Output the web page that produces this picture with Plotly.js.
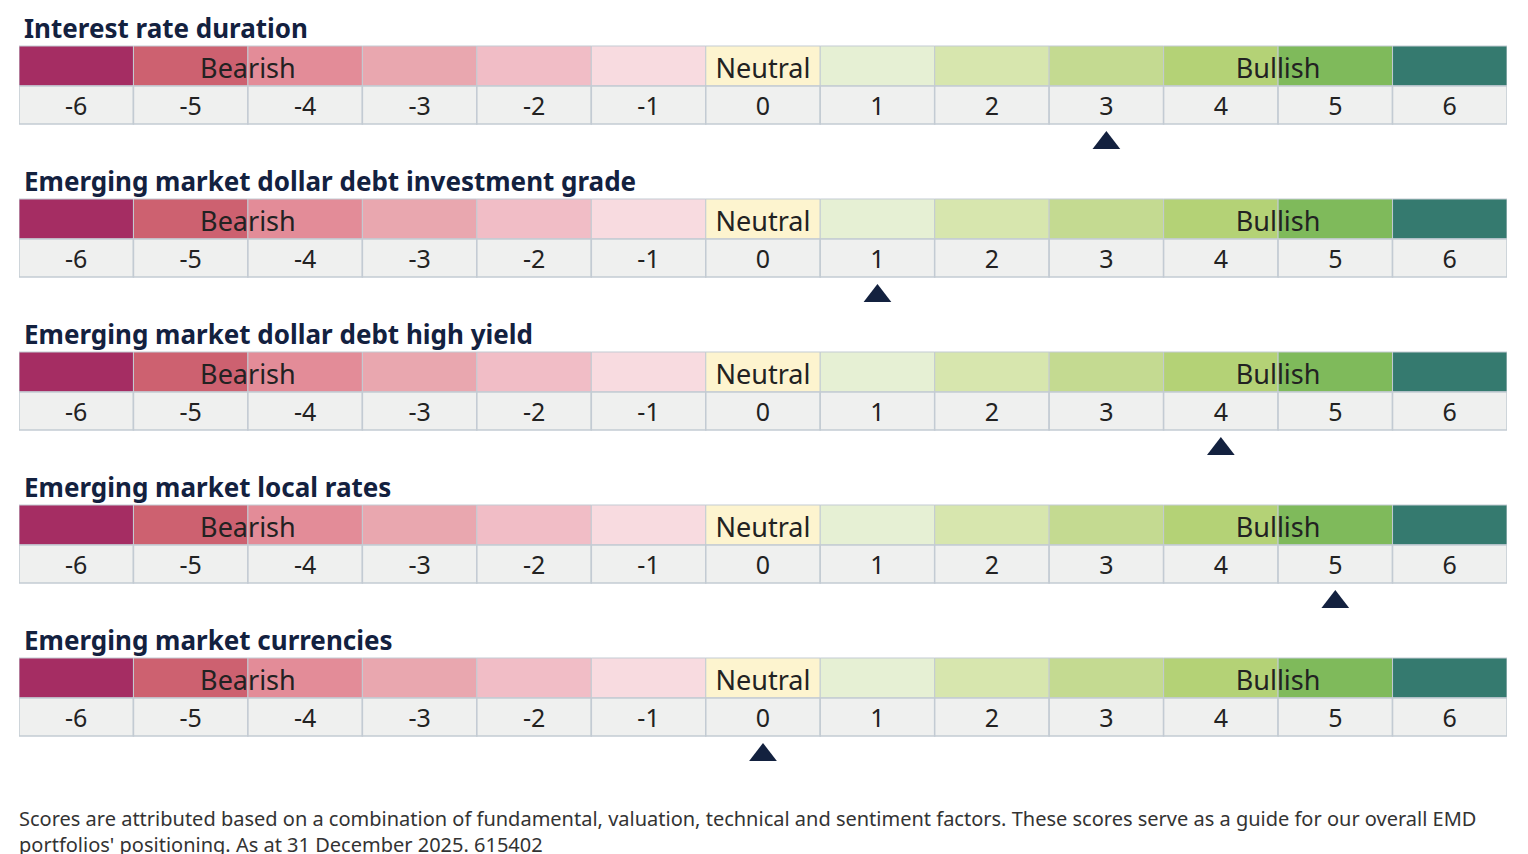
<!DOCTYPE html>
<html><head><meta charset="utf-8">
<script src="https://cdn.plot.ly/plotly-3.0.1.min.js"></script>
<style>html,body{margin:0;padding:0;background:#fff}#chart{width:1528px;height:854px}</style>
</head><body><div id="chart"></div>
<script>
// ---- data ----
const scores = [-6,-5,-4,-3,-2,-1,0,1,2,3,4,5,6];
const tickLabels = ["-6","-5","-4","-3","-2","-1","0","1","2","3","4","5","6"];
const cellColors = ["#a52d63","#cd6170","#e38c98","#e9a7af","#f1bdc6","#f8dbe0","#fdf4cf","#e6f0d4","#d7e6ae","#c4da91","#b4d276","#7fba5b","#357a6f"];
const rowTitles = ["Interest rate duration","Emerging market dollar debt investment grade","Emerging market dollar debt high yield","Emerging market local rates","Emerging market currencies"];
const rowScores = [3, 1, 4, 5, 0];
const zoneLabels = ["Bearish","Neutral","Bullish"];
const zonePositions = [-4.5, 0, 4.5];
const footnote = "Scores are attributed based on a combination of fundamental, valuation, technical and sentiment factors. These scores serve as a guide for our overall EMD<br>portfolios' positioning. As at 31 December 2025. 615402";

// ---- layout constants ----
const W = 1528, H = 854;
const rowStep = 153, bandTop = 46, bandH = 40, numTop = 86, numH = 38, triY = 143;
const navy = "#13213f", border = "#c3cbd3";

const traces = [];
const annotations = [];
rowTitles.forEach((t, r) => {
  const off = r * rowStep;
  traces.push({type:"bar", x:scores, y:scores.map(()=>bandH), base:scores.map(()=>bandTop+off),
    width:1, marker:{color:cellColors, line:{color:border, width:1}}, hoverinfo:"skip", showlegend:false});
  traces.push({type:"bar", x:scores, y:scores.map(()=>numH), base:scores.map(()=>numTop+off),
    width:1, marker:{color:"#eff0ef", line:{color:border, width:1.5}}, hoverinfo:"skip", showlegend:false});
  traces.push({type:"scatter", mode:"text", x:scores, y:scores.map(()=>numTop+off+numH/2+4),
    text:tickLabels, textfont:{family:"Noto Sans", size:25, color:"#222"}, hoverinfo:"skip", showlegend:false});
  traces.push({type:"scatter", mode:"text", x:zonePositions, y:zonePositions.map(()=>bandTop+off+bandH/2+5),
    text:zoneLabels, textfont:{family:"Noto Sans", size:27, color:"#222"}, hoverinfo:"skip", showlegend:false});
  traces.push({type:"scatter", mode:"markers", x:[rowScores[r]], y:[triY+off],
    marker:{symbol:"triangle-up", size:24, color:navy}, hoverinfo:"skip", showlegend:false});
  annotations.push({xref:"paper", yref:"y", x:22/W, y:28+off, xanchor:"left", yanchor:"middle",
    text:"<b>"+t+"</b>", showarrow:false, font:{family:"Noto Sans", size:26, color:navy}});
});
annotations.push({xref:"paper", yref:"y", x:17/W, y:831, xanchor:"left", yanchor:"middle", align:"left",
  text:footnote, showarrow:false, font:{family:"Noto Sans", size:20, color:"#333"}});

const layout = {
  width:W, height:H, margin:{l:0,r:0,t:0,b:0}, paper_bgcolor:"#fff", plot_bgcolor:"#fff",
  barmode:"overlay", bargap:0,
  xaxis:{domain:[19/W, 1507/W], range:[-6.5, 6.5], visible:false, fixedrange:true},
  yaxis:{range:[H, 0], visible:false, fixedrange:true},
  annotations:annotations, font:{family:"Noto Sans"}
};
Plotly.newPlot("chart", traces, layout, {staticPlot:true, displayModeBar:false});
</script></body></html>
